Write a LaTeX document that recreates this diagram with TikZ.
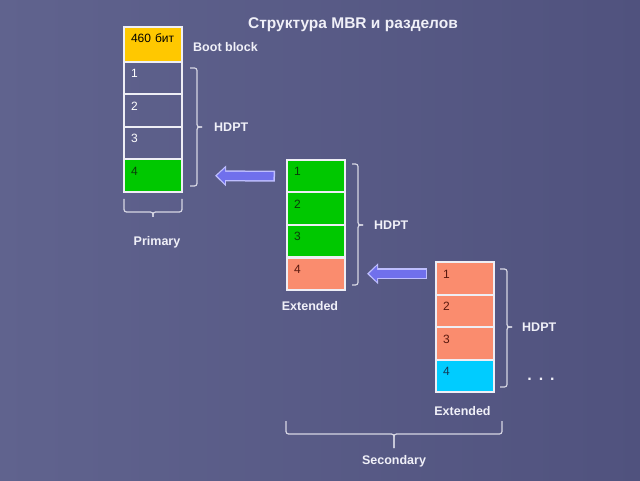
\documentclass[tikz,border=0pt]{standalone}
\usepackage{fontspec}
\setmainfont{Liberation Sans}
\usetikzlibrary{positioning,arrows.meta}

\begin{document}
\begin{tikzpicture}[x=1pt,y=1pt,
  cell/.style={draw=cellLine,line width=2pt,outer sep=0pt,inner xsep=7pt,inner ysep=0pt,
    minimum width=58pt,minimum height=32.5pt,text width=44pt,align=left,
    text height=16pt,text depth=16.5pt,font=\fontsize{12}{14}\selectfont},
  cellE/.style={cell,text=white},
  cellY/.style={cell,fill=bootColor,text=black,minimum height=35pt,text depth=19pt},
  cellG/.style={cell,fill=primColor,text=primText},
  cellR/.style={cell,fill=extColor,text=extText},
  cellC/.style={cell,fill=nextColor,text=nextText},
  lbl/.style={text=labelColor,font=\bfseries\fontsize{12.5}{15}\selectfont,inner sep=0pt},
  brk/.style={draw=braceColor,line width=1.2pt,rounded corners=2.5pt},
  blkout/.style={draw=arrowLine,line width=11pt,-{Triangle[width=20pt,length=11pt]}},
  blkin/.style={draw=arrowColor,line width=8pt,-{Triangle[width=15pt,length=8pt]},
    shorten >=2pt,shorten <=1.5pt}]
\definecolor{bgColor}{RGB}{80,82,126}
\definecolor{bgLight}{RGB}{96,99,142}
\definecolor{cellLine}{RGB}{238,238,245}
\definecolor{bootColor}{RGB}{255,200,0}
\definecolor{primColor}{RGB}{0,200,0}
\definecolor{primText}{RGB}{10,60,10}
\definecolor{extColor}{RGB}{250,140,110}
\definecolor{extText}{RGB}{90,25,15}
\definecolor{nextColor}{RGB}{0,204,255}
\definecolor{nextText}{RGB}{20,55,85}
\definecolor{labelColor}{RGB}{240,240,248}
\definecolor{braceColor}{RGB}{215,215,228}
\definecolor{arrowColor}{RGB}{112,112,236}
\definecolor{arrowLine}{RGB}{190,190,255}

\useasboundingbox (0,0) rectangle (640,480);
\path[left color=bgLight,right color=bgColor] (-3,-3) rectangle (643,483);

\node[lbl,font=\bfseries\fontsize{15.5}{18}\selectfont] (title) at (353,455) {Структура MBR и разделов};

% MBR
\node[cellY,anchor=north west] (p0) at (124,453) {460 бит};
\node[cellE,below=0pt of p0] (p1) {1};
\node[cellE,below=0pt of p1] (p2) {2};
\node[cellE,below=0pt of p2] (p3) {3};
\node[cellG,below=0pt of p3] (p4) {4};

% first extended
\node[cellG,anchor=north west] (e1) at (287,320) {1};
\node[cellG,below=0pt of e1] (e2) {2};
\node[cellG,below=0pt of e2] (e3) {3};
\node[cellR,below=0pt of e3] (e4) {4};

% next extended
\node[cellR,anchor=north west] (s1) at (436,218) {1};
\node[cellR,below=0pt of s1] (s2) {2};
\node[cellR,below=0pt of s2] (s3) {3};
\node[cellC,below=0pt of s3] (s4) {4};

\node[lbl,anchor=west] (boot) at ([xshift=11pt,yshift=-3pt]p0.east) {Boot block};

\draw[brk] ([xshift=8pt,yshift=-6pt]p1.north east) -| ([xshift=15pt]p2.south east) -- ++(5,0);
\draw[brk] ([xshift=8pt,yshift=6pt]p4.south east) -| ([xshift=15pt]p2.south east) -- ++(5,0);
\node[lbl,anchor=west] (hp) at ([xshift=32pt]p2.south east) {HDPT};

\draw[brk] ([yshift=-7pt]p4.south west) |- ([yshift=-20pt]p4.south) -- ++(0,-5);
\draw[brk] ([yshift=-7pt]p4.south east) |- ([yshift=-20pt]p4.south) -- ++(0,-5);
\node[lbl] (prim) at ([xshift=4pt,yshift=-50pt]p4.south) {Primary};

\draw[brk] ([xshift=7pt,yshift=-4pt]e1.north east) -| ([xshift=13pt]e2.south east) -- ++(5,0);
\draw[brk] ([xshift=7pt,yshift=5pt]e4.south east) -| ([xshift=13pt]e2.south east) -- ++(5,0);
\node[lbl,anchor=west] (he) at ([xshift=29pt]e2.south east) {HDPT};
\node[lbl] (ext1) at ([xshift=-6pt,yshift=-16pt]e4.south) {Extended};

\draw[brk] ([xshift=6pt,yshift=-7pt]s1.north east) -| ([xshift=13pt]s2.south east) -- ++(5,0);
\draw[brk] ([xshift=6pt,yshift=5pt]s4.south east) -| ([xshift=13pt]s2.south east) -- ++(5,0);
\node[lbl,anchor=west] (hs) at ([xshift=28pt]s2.south east) {HDPT};
\node[lbl] (ext2) at ([xshift=-2.5pt,yshift=-19.5pt]s4.south) {Extended};
\node[lbl,font=\bfseries\fontsize{16}{18}\selectfont] (more) at ([xshift=47pt,yshift=-4pt]s4.east) {.\hspace{7pt}.\hspace{7pt}.};

\coordinate (secL) at (286,59);
\coordinate (secR) at (502,59);
\coordinate (secM) at (394,46);
\draw[brk] (secL) |- (secM) -- ++(0,-14);
\draw[brk] (secR) |- (secM) -- ++(0,-14);
\node[lbl] (sec) at (394,19) {Secondary};

\draw[blkout] ([xshift=-12pt]e1.west) -- ([xshift=33pt]p4.east);
\draw[blkin] ([xshift=-12pt]e1.west) -- ([xshift=33pt]p4.east);
\draw[blkout] ([xshift=-9pt]s1.west |- e4.east) -- ([xshift=22pt]e4.east);
\draw[blkin] ([xshift=-9pt]s1.west |- e4.east) -- ([xshift=22pt]e4.east);
\end{tikzpicture}
\end{document}
